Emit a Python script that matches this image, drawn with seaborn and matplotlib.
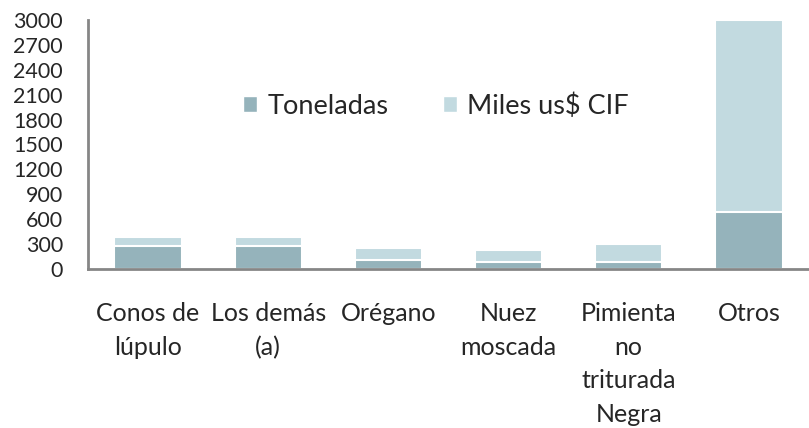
import matplotlib
matplotlib.use("Agg")
import matplotlib.pyplot as plt
import seaborn as sns
import pandas as pd
import numpy as np
from matplotlib.patches import Patch

categorias = ["Conos de\nlúpulo", "Los demás\n(a)", "Orégano", "Nuez\nmoscada",
              "Pimienta\nno\ntriturada\nNegra", "Otros"]
toneladas = [280, 280, 110, 85, 85, 690]
miles_cif = [100, 100, 145, 145, 220, 2310]
yticks = list(range(0, 3001, 300))

color_ton = "#95B3BB"
color_cif = "#C2DAE0"

sns.set_theme(style="white")
plt.rcParams["font.family"] = ["Lato", "DejaVu Sans"]

df = pd.DataFrame({
    "cat": categorias,
    "ton": toneladas,
    "total": np.array(toneladas) + np.array(miles_cif),
})

fig = plt.figure(figsize=(8.09, 4.28), dpi=100)
ax = fig.add_axes([88/809, 1-269/428, (809-88)/809, (269-20)/428])

sns.barplot(data=df, x="cat", y="total", color=color_cif, saturation=1,
            width=0.56, edgecolor="white", linewidth=1.5, ax=ax)
sns.barplot(data=df, x="cat", y="ton", color=color_ton, saturation=1,
            width=0.56, edgecolor="white", linewidth=1.5, ax=ax)

ax.set_ylim(0, 3000)
ax.set_yticks(yticks)
ax.set_yticklabels([str(v) for v in yticks], fontsize=15.5)
ax.tick_params(axis="y", length=0, pad=18)
ax.tick_params(axis="x", length=0, pad=24, labelsize=18)
for lab in ax.get_xticklabels():
    lab.set_linespacing(1.55)
    lab.set_verticalalignment("top")
ax.set_xlabel("")
ax.set_ylabel("")

for s in ["top", "right"]:
    ax.spines[s].set_visible(False)
for s in ["left", "bottom"]:
    ax.spines[s].set_color("#868686")
    ax.spines[s].set_linewidth(2)

handles = [Patch(facecolor=color_ton, edgecolor="white", label="Toneladas"),
           Patch(facecolor=color_cif, edgecolor="white", label="Miles us$ CIF")]
ax.legend(handles=handles, loc="center", bbox_to_anchor=(0.483, 0.655), ncol=2,
          frameon=False, fontsize=19.5, handlelength=0.5, handleheight=0.5,
          handletextpad=0.4, columnspacing=2.0)

fig.savefig("out.png", dpi=100)
